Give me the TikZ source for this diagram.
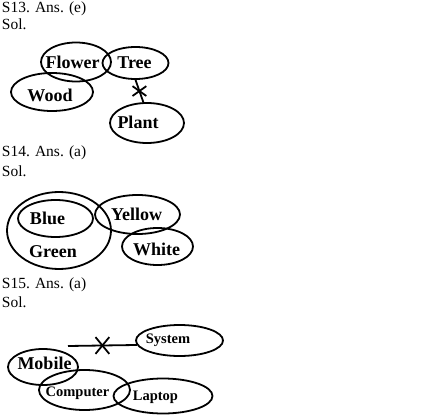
\documentclass[tikz,border=0pt]{standalone}
\usepackage{fontspec}
\setmainfont{Liberation Serif}
\usetikzlibrary{shapes.geometric,shapes.misc}

\begin{document}
\begin{tikzpicture}[x=1pt, y=-1pt, line width=1.8pt,
	set/.style={draw,ellipse,inner sep=0pt},
	word/.style={font=\fontsize{18}{20}\selectfont\bfseries,inner sep=0pt},
	small/.style={font=\fontsize{14.5}{16}\selectfont\bfseries,inner sep=0pt},
	head/.style={font=\fontsize{15.5}{17}\selectfont,anchor=base west,inner sep=0pt},
	xmark/.style={draw,cross out,inner sep=0pt}]
	\useasboundingbox (0,0) rectangle (431,417);
	
	\node[head] (h13) at (1,13) {S13. Ans. (e)};
	\node[head] (s13) at (1,30) {Sol.};
	\node[set,minimum width=70pt,minimum height=39pt] (flower) at (76,62) {};
	\node[set,minimum width=66pt,minimum height=32pt] (tree) at (135.5,63) {};
	\node[set,minimum width=82pt,minimum height=38pt] (wood) at (52,92) {};
	\node[set,minimum width=74pt,minimum height=40pt] (plant) at (147,123) {};
	\node[word] (flowert) at (72.5,62) {Flower};
	\node[word] (treet) at (134.5,63) {Tree};
	\node[word] (woodt) at (50,95) {Wood};
	\node[word] (plantt) at (138,122) {Plant};
	\draw (tree.south) -- (plant.100) node[midway,xmark,minimum width=12pt,minimum height=8pt] (cut13) {};
	
	\node[head] (h14) at (1,157) {S14. Ans. (a)};
	\node[head] (s14) at (1,176) {Sol.};
	\node[set,minimum width=104pt,minimum height=77pt] (green) at (59,230.5) {};
	\node[set,minimum width=75pt,minimum height=37pt] (blue) at (55.5,218.5) {};
	\node[set,minimum width=85pt,minimum height=39pt] (yellow) at (137.5,214.5) {};
	\node[set,minimum width=71pt,minimum height=37pt] (white) at (157.5,246.5) {};
	\node[word] (bluet) at (47.5,218) {Blue};
	\node[word] (greent) at (53,252) {Green};
	\node[word] (yellowt) at (136.5,214) {Yellow};
	\node[word] (whitet) at (156.5,249) {White};
	
	\node[head] (h15) at (1,288) {S15. Ans. (a)};
	\node[head] (s15) at (1,307) {Sol.};
	\node[set,minimum width=87pt,minimum height=31pt] (system) at (179.5,340.5) {};
	\node[set,minimum width=70pt,minimum height=36pt] (mobile) at (43,367) {};
	\node[set,minimum width=91pt,minimum height=40pt] (computer) at (84.5,390) {};
	\node[set,minimum width=99pt,minimum height=35pt] (laptop) at (163,396) {};
	\node[small] (systemt) at (168,340) {System};
	\node[word] (mobilet) at (44.5,363) {Mobile};
	\node[small] (computert) at (77.5,393) {Computer};
	\node[small] (laptopt) at (155.5,397) {Laptop};
	\coordinate (mobtip) at (68,346);
	\draw (mobtip) -- (system.186) node[pos=.5,xmark,minimum width=12pt,minimum height=15pt] (cut15) {};
\end{tikzpicture}
\end{document}
